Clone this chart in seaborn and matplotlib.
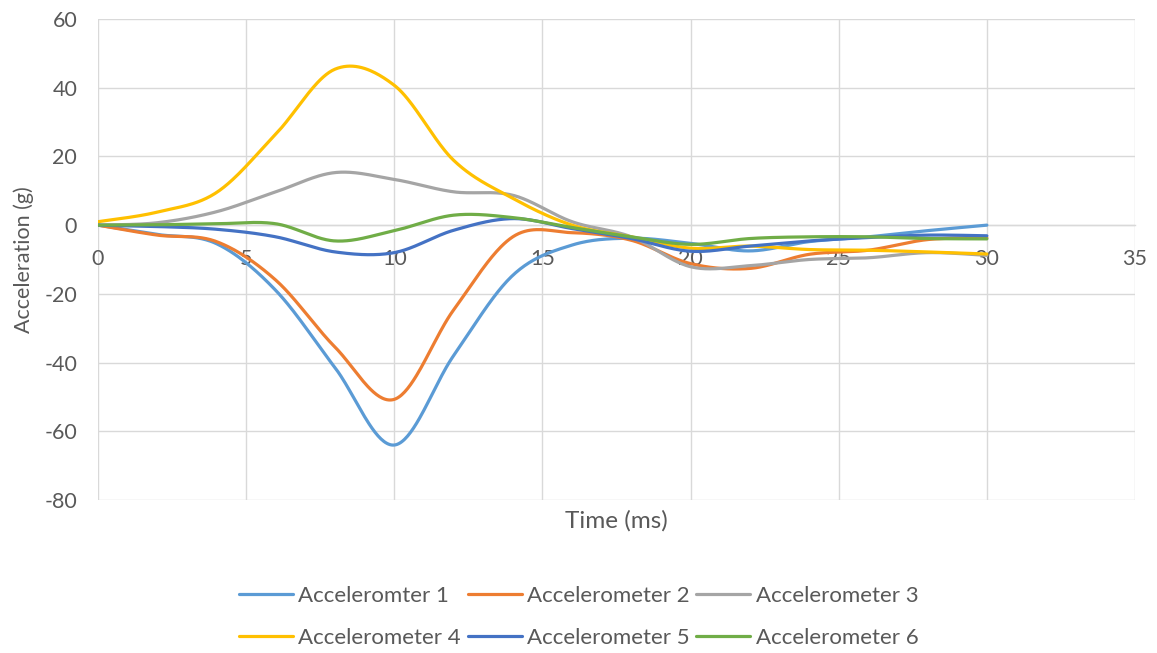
import numpy as np
import pandas as pd
import matplotlib
matplotlib.use("Agg")
import matplotlib.pyplot as plt
import seaborn as sns

# Sample times (ms)
time_ms = [0, 2, 4, 6, 8, 10, 12, 14, 16, 18, 20, 22, 24, 26, 28, 30]

# Acceleration (g) for each accelerometer
acc1 = [0, -2.7, -5.4, -19, -41.5, -64, -38, -14.6, -5.8, -3.8, -5.3, -7.5, -4.8, -3.4, -1.6, 0]
acc2 = [0, -2.9, -4.8, -16, -35.5, -50.7, -24.7, -3.4, -2.2, -4.4, -11.2, -12.6, -8.5, -7.3, -4.2, -3.7]
acc3 = [0, 0.7, 3.9, 9.7, 15.3, 13.3, 9.7, 8.7, 1.0, -3.4, -12.1, -11.8, -10.0, -9.5, -8.0, -8.8]
acc4 = [1.0, 3.8, 9.5, 26.5, 45.4, 40.7, 18.9, 7.8, 0.0, -3.4, -6.7, -6.1, -7.1, -7.3, -7.8, -8.4]
acc5 = [0, -0.4, -1.2, -3.4, -7.8, -8.0, -1.5, 1.9, -1.0, -3.9, -7.6, -6.1, -4.6, -3.6, -2.9, -3.1]
acc6 = [0, 0.1, 0.4, 0.4, -4.6, -1.6, 2.9, 2.2, -0.7, -3.4, -5.6, -3.9, -3.4, -3.4, -3.9, -4.0]

series_names = ["Acceleromter 1", "Accelerometer 2", "Accelerometer 3",
                "Accelerometer 4", "Accelerometer 5", "Accelerometer 6"]
series_values = [acc1, acc2, acc3, acc4, acc5, acc6]
series_colors = ["#5B9BD5", "#ED7D31", "#A5A5A5", "#FFC000", "#4472C4", "#70AD47"]

x_ticks = [0, 5, 10, 15, 20, 25, 30, 35]
y_ticks = [-80, -60, -40, -20, 0, 20, 40, 60]


def smooth_curve(xs, ys, n=40):
    """Cubic Bezier smoothing through every point (Catmull-Rom style)."""
    xs = np.asarray(xs, float)
    ys = np.asarray(ys, float)
    px = np.concatenate([[xs[0]], xs, [xs[-1]]])
    py = np.concatenate([[ys[0]], ys, [ys[-1]]])
    t = np.linspace(0, 1, n, endpoint=False)[:, None]
    out_x, out_y = [], []
    for i in range(1, len(px) - 2):
        p0 = np.array([px[i], py[i]])
        p3 = np.array([px[i + 1], py[i + 1]])
        c1 = p0 + (np.array([px[i + 1], py[i + 1]]) - np.array([px[i - 1], py[i - 1]])) / 6
        c2 = p3 - (np.array([px[i + 2], py[i + 2]]) - np.array([px[i], py[i]])) / 6
        pts = ((1 - t) ** 3) * p0 + 3 * ((1 - t) ** 2) * t * c1 + 3 * (1 - t) * t ** 2 * c2 + t ** 3 * p3
        out_x.append(pts[:, 0])
        out_y.append(pts[:, 1])
    out_x.append([xs[-1]])
    out_y.append([ys[-1]])
    return np.concatenate(out_x), np.concatenate(out_y)


sns.set_theme(style="white")
plt.rcParams["font.family"] = ["Lato", "DejaVu Sans"]
plt.rcParams["axes.unicode_minus"] = False

text_color = "#595959"
grid_color = "#D9D9D9"

fig = plt.figure(figsize=(11.57, 6.53), dpi=100)
ax = fig.add_axes([98 / 1157, 1 - 500 / 653, (1135 - 98) / 1157, (500 - 19) / 653])

for name, vals, color in zip(series_names, series_values, series_colors):
    sx, sy = smooth_curve(time_ms, vals)
    df = pd.DataFrame({"Time (ms)": sx, "Acceleration (g)": sy})
    sns.lineplot(data=df, x="Time (ms)", y="Acceleration (g)", ax=ax, color=color,
                 linewidth=2.3, sort=False, estimator=None, label=name,
                 solid_capstyle="round")

ax.set_xlim(0, 35)
ax.set_ylim(-80, 60)
ax.set_xticks(x_ticks)
ax.set_yticks(y_ticks)

ax.grid(True, color=grid_color, linewidth=1.0)
ax.set_axisbelow(True)
for side in ["top", "right", "left"]:
    ax.spines[side].set_visible(False)
ax.spines["bottom"].set_position(("data", 0))
ax.spines["bottom"].set_color(grid_color)
ax.spines["bottom"].set_linewidth(1.0)
ax.spines["bottom"].set_zorder(0.5)

ax.tick_params(axis="x", length=0, pad=17, labelsize=15.5, labelcolor=text_color)
ax.tick_params(axis="y", length=0, pad=15, labelsize=15.5, labelcolor=text_color)

ax.set_xlabel("Time (ms)", fontsize=17.5, color=text_color)
ax.xaxis.set_label_coords(0.5, -0.021)
ax.xaxis.label.set_va("top")
ax.set_ylabel("Acceleration (g)", fontsize=15.5, color=text_color)
ax.yaxis.set_label_coords(-0.0615, 0.5)

handles, labels = ax.get_legend_handles_labels()
ax.get_legend().remove()
order = [0, 3, 1, 4, 2, 5]
leg = fig.legend([handles[i] for i in order], [labels[i] for i in order],
                 loc="center", bbox_to_anchor=(0.5, 1 - 617 / 653), ncol=3,
                 frameon=False, fontsize=16, handlelength=2.43, handletextpad=0.23,
                 columnspacing=0.32, labelspacing=1.0)
for txt in leg.get_texts():
    txt.set_color(text_color)

fig.savefig("out.png", dpi=100)
